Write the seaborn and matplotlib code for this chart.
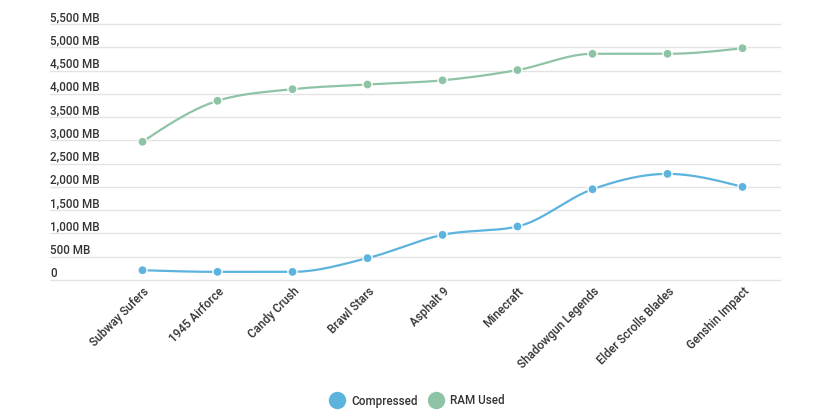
import numpy as np
import pandas as pd
import matplotlib
matplotlib.use("Agg")
import matplotlib.pyplot as plt
from matplotlib.lines import Line2D
import seaborn as sns

games = ["Subway Sufers", "1945 Airforce", "Candy Crush", "Brawl Stars", "Asphalt 9",
         "Minecraft", "Shadowgun Legends", "Elder Scrolls Blades", "Genshin Impact"]
compressed = [210, 175, 175, 470, 970, 1150, 1950, 2280, 2000]
ram_used = [2970, 3850, 4100, 4200, 4290, 4510, 4860, 4860, 4980]
y_ticks = [0, 500, 1000, 1500, 2000, 2500, 3000, 3500, 4000, 4500, 5000, 5500]
y_labels = ["0"] + [f"{v:,} MB" for v in y_ticks[1:]]
series_names = ["Compressed", "RAM Used"]
colors = {"Compressed": "#5cb3dd", "RAM Used": "#8fc3a5"}


def monotone_curve(x, y, n=40):
    x = np.asarray(x, float); y = np.asarray(y, float)
    h = np.diff(x); s = np.diff(y) / h
    t = np.zeros_like(y)
    for i in range(1, len(y) - 1):
        p = (s[i - 1] * h[i] + s[i] * h[i - 1]) / (h[i - 1] + h[i])
        t[i] = (np.sign(s[i - 1]) + np.sign(s[i])) * min(abs(s[i - 1]), abs(s[i]), 0.5 * abs(p))
    t[0] = (3 * s[0] - t[1]) / 2
    t[-1] = (3 * s[-1] - t[-2]) / 2
    xs, ys = [], []
    for i in range(len(h)):
        u = np.linspace(0, 1, n)
        h00 = 2 * u**3 - 3 * u**2 + 1
        h10 = u**3 - 2 * u**2 + u
        h01 = -2 * u**3 + 3 * u**2
        h11 = u**3 - u**2
        xs.append(x[i] + u * h[i])
        ys.append(h00 * y[i] + h10 * h[i] * t[i] + h01 * y[i + 1] + h11 * h[i] * t[i + 1])
    return np.concatenate(xs), np.concatenate(ys)


df = pd.DataFrame({
    "game": games * 2,
    "pos": list(range(len(games))) * 2,
    "value": compressed + ram_used,
    "series": ["Compressed"] * len(games) + ["RAM Used"] * len(games),
})

sns.set_style("white")
plt.rcParams["font.family"] = ["Roboto", "DejaVu Sans"]
plt.rcParams["font.weight"] = "medium"

W, H = 822, 418
fig = plt.figure(figsize=(W / 100, H / 100), dpi=100)
ax = fig.add_axes([105 / W, (H - 280) / H, 675 / W, 256 / H])

curves = []
for name in series_names:
    sub = df[df.series == name]
    cx, cy = monotone_curve(sub.pos, sub.value)
    curves.append(pd.DataFrame({"x": cx, "y": cy, "series": name}))
curve_df = pd.concat(curves, ignore_index=True)

sns.lineplot(data=curve_df, x="x", y="y", hue="series", palette=colors, sort=False,
             estimator=None, linewidth=1.6, legend=False, ax=ax, zorder=3)
sns.scatterplot(data=df, x="pos", y="value", hue="series", palette=colors, s=44,
                edgecolor="white", linewidth=1.0, legend=False, ax=ax, zorder=4)

ax.set_xlim(-0.5, len(games) - 0.5)
ax.set_ylim(0, 5500)
ax.set_xlabel(""); ax.set_ylabel("")

for sp in ax.spines.values():
    sp.set_visible(False)

# gridlines extending under the labels
x0 = (50 - 105) / 675
for v in y_ticks:
    ax.plot([x0, 1.0], [v, v], transform=ax.get_yaxis_transform(), color="#e3e3e3",
            linewidth=1.0, clip_on=False, zorder=1)

ax.set_yticks(y_ticks)
ax.set_yticklabels(y_labels, fontsize=8.4, color="#333333", fontweight="medium")
ax.tick_params(axis="y", length=0, pad=39.5)
for lbl in ax.get_yticklabels():
    lbl.set_horizontalalignment("left")
    lbl.set_verticalalignment("bottom")

ax.set_xticks(range(len(games)))
ax.set_xticklabels(games, rotation=45, ha="right", va="top", rotation_mode="anchor",
                   fontsize=8.4, color="#333333", fontweight="medium")
ax.tick_params(axis="x", length=0, pad=3.5)

handles = [Line2D([], [], marker="o", linestyle="none", markersize=11.5,
                  markerfacecolor=colors[n], markeredgecolor=colors[n]) for n in series_names]
fig.legend(handles, series_names, loc="center", bbox_to_anchor=(415 / W, 1 - 401 / H),
           ncol=2, frameon=False, handletextpad=0.2, columnspacing=0.6,
           prop={"size": 8.4, "weight": "medium"}, labelcolor="#333333")

fig.savefig("out.png", dpi=100, facecolor="white")
